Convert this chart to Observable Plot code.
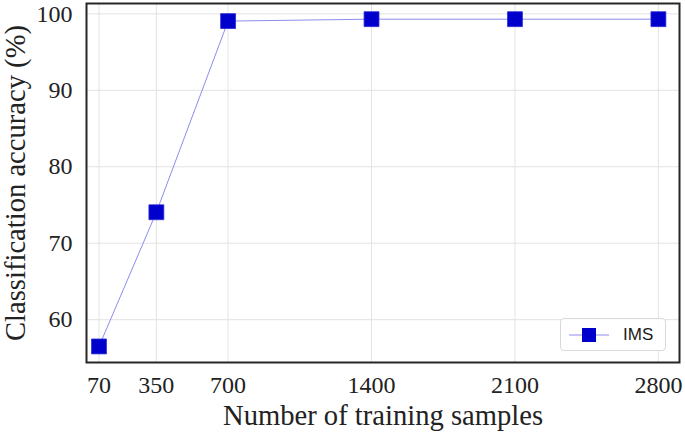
<!DOCTYPE html>
<html>
<head>
<meta charset="utf-8">
<script src="https://cdn.jsdelivr.net/npm/d3@7"></script>
<script src="https://cdn.jsdelivr.net/npm/@observablehq/plot@0.6"></script>
<style>
  body { margin: 0; background: #fff; }
  #wrap { position: relative; width: 685px; height: 432px; }
  #legend {
    position: absolute; left: 560px; top: 318px; width: 106px; height: 33px;
    border: 1px solid #d9d9d9; border-radius: 4px; background: rgba(255,255,255,0.85);
    box-sizing: border-box; font-family: "Liberation Sans", Arial, sans-serif; font-size: 17px; color: #1a1a1a;
  }
  #legend svg { position: absolute; left: 7px; top: 6px; }
  #legend span { position: absolute; left: 62px; top: 6px; }
</style>
</head>
<body>
<div id="wrap"></div>
<script>
const samples = [70, 350, 700, 1400, 2100, 2800];
const accuracy = [56.5, 74.05, 99.05, 99.3, 99.3, 99.3];
const xTicks = [70, 350, 700, 1400, 2100, 2800];
const yTicks = [60, 70, 80, 90, 100];
const seriesName = "IMS";
const xLabel = "Number of training samples";
const yLabel = "Classification accuracy (%)";

const data = samples.map((s, i) => ({samples: s, accuracy: accuracy[i]}));

const chart = Plot.plot({
  width: 685,
  height: 432,
  marginLeft: 86,
  marginRight: 6,
  marginTop: 3,
  marginBottom: 70,
  style: {fontFamily: "'Liberation Serif', 'Times New Roman', serif", background: "#fff", color: "#222", overflow: "visible"},
  x: {type: "linear", domain: [9, 2903]},
  y: {domain: [54.4, 101.35]},
  marks: [
    Plot.gridX(xTicks, {stroke: "#e3e3e3", strokeOpacity: 1, strokeWidth: 1}),
    Plot.gridY(yTicks, {stroke: "#e3e3e3", strokeOpacity: 1, strokeWidth: 1}),
    Plot.axisX({ticks: xTicks, tickSize: 0, tickPadding: 13, fontSize: 24, label: null, tickFormat: d => String(d)}),
    Plot.axisY({ticks: yTicks, tickSize: 0, tickPadding: 14, fontSize: 24, label: null}),
    Plot.line(data, {x: "samples", y: "accuracy", stroke: "#8c8cf0", strokeWidth: 1}),
    Plot.dot(data, {x: "samples", y: "accuracy", symbol: "square", r: 8.4, fill: "#0000cc", stroke: "#2a2ad8", strokeWidth: 0.8}),
    Plot.frame({stroke: "#262626", strokeWidth: 2}),
    Plot.text([xLabel], {frameAnchor: "bottom", dy: 62, textAnchor: "middle", lineAnchor: "bottom", fontSize: 28.6, fill: "#222"}),
    Plot.text([yLabel], {frameAnchor: "left", dx: -82, rotate: -90, textAnchor: "middle", lineAnchor: "top", fontSize: 28.6, fill: "#222"})
  ]
});

const wrap = document.getElementById("wrap");
wrap.appendChild(chart);
const legend = document.createElement("div");
legend.id = "legend";
legend.innerHTML = `<svg width="44" height="20"><line x1="1" y1="10" x2="41" y2="10" stroke="#8c8cf0" stroke-width="1"/><rect x="14" y="3" width="14" height="14" fill="#0000cc"/></svg><span>${seriesName}</span>`;
wrap.appendChild(legend);
</script>
</body>
</html>
